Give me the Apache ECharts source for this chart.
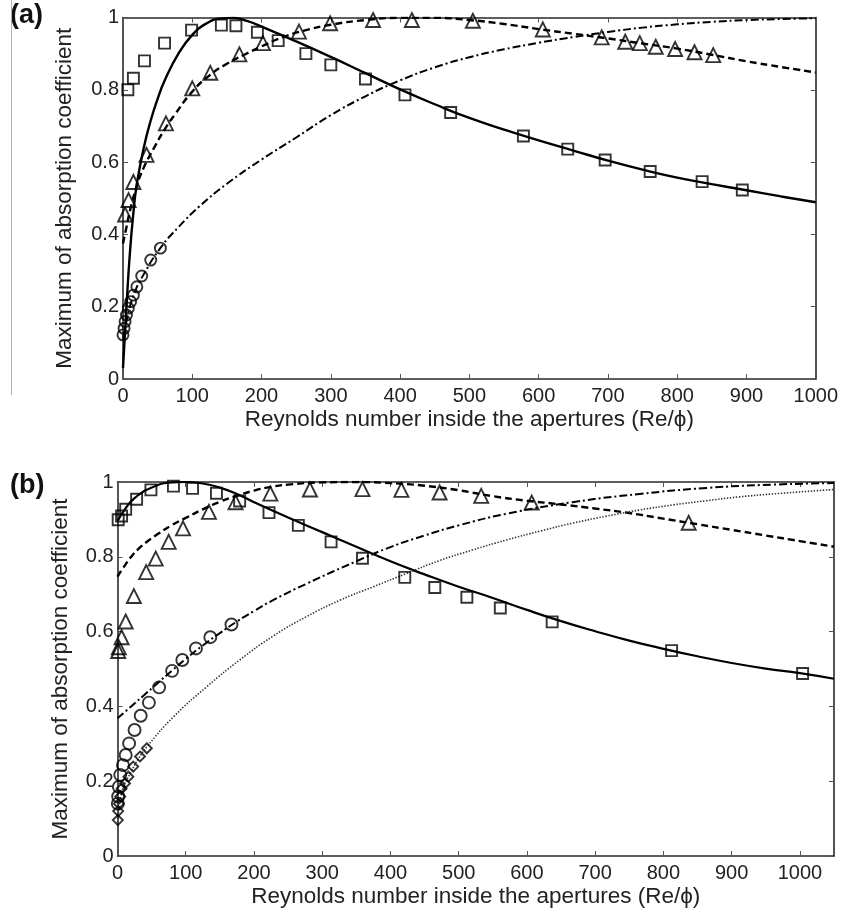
<!DOCTYPE html>
<html>
<head>
<meta charset="utf-8">
<script src="https://cdn.jsdelivr.net/npm/echarts@6/dist/echarts.min.js"></script>
<style>
html,body{margin:0;padding:0;background:#fff;}
#chart{width:841px;height:920px;}
</style>
</head>
<body>
<div id="chart"></div>
<script>
// ---------- Panel (a) data ----------
var aSquares = [[7,0.80],[15,0.832],[31,0.88],[60,0.929],[99,0.965],[142,0.979],[163,0.977],[194,0.959],[224,0.936],[264,0.90],[300,0.869],[350,0.83],[407,0.786],[473,0.737],[578,0.672],[642,0.636],[696,0.606],[761,0.574],[836,0.546],[894,0.523]];
var aTriangles = [[3,0.455],[8,0.495],[15,0.545],[34,0.62],[62,0.707],[100,0.804],[126,0.847],[168,0.898],[202,0.929],[254,0.961],[299,0.984],[361,0.993],[417,0.993],[505,0.991],[606,0.967],[691,0.945],[725,0.933],[746,0.929],[769,0.919],[797,0.913],[825,0.904],[852,0.896]];
var aCircles = [[0,0.122],[1.5,0.14],[3,0.159],[5,0.177],[7.7,0.196],[11,0.214],[15,0.232],[20,0.255],[27,0.285],[40,0.329],[54,0.362]];
var aSolid = [[0,0.03],[5,0.2],[10,0.35],[15,0.46],[20,0.54],[30,0.64],[40,0.715],[50,0.775],[60,0.825],[80,0.9],[100,0.952],[120,0.983],[140,0.997],[160,0.999],[180,0.99],[200,0.975],[250,0.934],[300,0.891],[350,0.846],[400,0.801],[450,0.76],[500,0.722],[550,0.69],[600,0.66],[650,0.632],[700,0.604],[750,0.579],[800,0.557],[850,0.539],[900,0.522],[950,0.505],[1000,0.489]];
var aDashed = [[0,0.375],[5,0.42],[10,0.465],[20,0.535],[30,0.585],[45,0.64],[60,0.69],[75,0.732],[100,0.795],[125,0.84],[150,0.872],[175,0.897],[200,0.92],[230,0.945],[260,0.963],[300,0.98],[350,0.993],[400,0.999],[450,0.999],[500,0.993],[550,0.982],[600,0.968],[650,0.955],[700,0.942],[750,0.928],[800,0.914],[850,0.897],[900,0.879],[950,0.863],[1000,0.848]];
var aDashDot = [[0,0.11],[5,0.16],[15,0.23],[30,0.29],[55,0.365],[80,0.42],[110,0.477],[150,0.54],[200,0.607],[250,0.668],[300,0.73],[350,0.782],[400,0.826],[450,0.862],[500,0.89],[550,0.912],[600,0.93],[650,0.946],[700,0.96],[750,0.972],[800,0.981],[850,0.988],[900,0.993],[1000,0.998]];

// ---------- Panel (b) data ----------
var bSquares = [[1,0.899],[6,0.909],[12,0.927],[28,0.954],[49,0.979],[82,0.989],[110,0.983],[145,0.97],[179,0.949],[222,0.918],[265,0.884],[313,0.84],[359,0.796],[421,0.745],[465,0.718],[512,0.692],[561,0.663],[637,0.626],[812,0.549],[1004,0.488]];
var bTriangles = [[1,0.548],[2,0.558],[6,0.585],[12,0.627],[24,0.695],[42,0.759],[56,0.795],[75,0.84],[96,0.876],[134,0.92],[173,0.946],[224,0.969],[282,0.98],[359,0.981],[416,0.979],[472,0.972],[533,0.963],[607,0.945],[837,0.891]];
var bCircles = [[0.5,0.14],[1,0.159],[2,0.185],[4,0.217],[8,0.243],[12,0.27],[17,0.301],[25,0.337],[34,0.375],[46,0.41],[61,0.451],[80,0.495],[95,0.524],[115,0.555],[136,0.585],[167,0.619]];
var bDiamonds = [[0.5,0.096],[1,0.12],[2,0.14],[4,0.159],[6,0.18],[11,0.194],[16,0.212],[23,0.239],[33,0.266],[43,0.288]];
var bSolid = [[0,0.895],[10,0.925],[25,0.957],[50,0.985],[75,0.998],[100,1.0],[125,0.996],[150,0.985],[175,0.968],[200,0.946],[250,0.905],[300,0.866],[350,0.827],[400,0.788],[450,0.753],[500,0.72],[550,0.69],[600,0.658],[650,0.628],[700,0.601],[750,0.576],[800,0.554],[850,0.534],[900,0.516],[950,0.501],[1000,0.489],[1050,0.474]];
var bDashed = [[0,0.747],[10,0.775],[20,0.8],[30,0.82],[45,0.843],[60,0.862],[80,0.885],[100,0.904],[125,0.927],[150,0.947],[175,0.963],[200,0.977],[225,0.987],[250,0.993],[300,0.999],[350,1.0],[400,0.997],[450,0.99],[500,0.978],[550,0.962],[600,0.95],[650,0.94],[700,0.929],[750,0.917],[800,0.902],[850,0.887],[900,0.872],[950,0.857],[1000,0.842],[1050,0.827]];
var bDashDot = [[0,0.368],[20,0.4],[40,0.432],[60,0.464],[80,0.496],[100,0.527],[125,0.563],[150,0.596],[175,0.627],[200,0.655],[228,0.684],[277,0.728],[350,0.788],[400,0.826],[450,0.857],[500,0.884],[570,0.915],[667,0.946],[765,0.968],[863,0.984],[960,0.993],[1050,0.997]];
var bDotted = [[0,0.09],[5,0.16],[10,0.19],[20,0.225],[30,0.258],[43,0.292],[82,0.372],[131,0.453],[179,0.524],[228,0.588],[277,0.64],[326,0.684],[375,0.72],[423,0.755],[472,0.79],[520,0.818],[570,0.845],[620,0.869],[667,0.89],[715,0.908],[765,0.925],[815,0.939],[863,0.95],[910,0.96],[960,0.968],[1050,0.98]];

// ---------- Axis ticks ----------
var yTicks = [0, 0.2, 0.4, 0.6, 0.8, 1];
var xTickStep = 100;
var aXMax = 1000;
var bXMax = 1050;
var xTitle = 'Reynolds number inside the apertures (Re/\u03D5)';
var yTitle = 'Maximum of absorption coefficient';

var FONT = 'Liberation Sans, Arial, sans-serif';
var AXC = '#2a2a2a';

function xAxes(gi, max) {
  var common = {
    type: 'value', gridIndex: gi, min: 0, max: max, interval: xTickStep,
    axisLine: {show: true, onZero: false, lineStyle: {color: AXC, width: 1.6}},
    axisTick: {show: true, inside: true, length: 5, lineStyle: {color: '#555', width: 1}},
    splitLine: {show: false}
  };
  return [
    Object.assign({}, common, {
      position: 'bottom',
      axisLabel: {show: true, color: '#222', fontFamily: FONT, fontSize: 20, margin: 7,
        showMaxLabel: max % xTickStep === 0,
        formatter: function (v) { return String(v); }},
      name: xTitle, nameLocation: 'middle', nameGap: 29,
      nameTextStyle: {color: '#222', fontFamily: FONT, fontSize: 22.5}
    }),
    Object.assign({}, common, {position: 'top', axisLabel: {show: false}})
  ];
}
function yAxes(gi, gap) {
  var common = {
    type: 'value', gridIndex: gi, min: 0, max: 1, interval: 0.2,
    axisLine: {show: true, onZero: false, lineStyle: {color: AXC, width: 1.6}},
    axisTick: {show: true, inside: true, length: 5, lineStyle: {color: '#555', width: 1}},
    splitLine: {show: false}
  };
  return [
    Object.assign({}, common, {
      position: 'left',
      axisLabel: {show: true, color: '#222', fontFamily: FONT, fontSize: 20, margin: 4,
        customValues: yTicks,
        formatter: function (v) { return String(Math.round(v * 10) / 10); }},
      name: yTitle, nameLocation: 'middle', nameGap: gap, nameRotate: 90,
      nameTextStyle: {color: '#222', fontFamily: FONT, fontSize: 22.5}
    }),
    Object.assign({}, common, {position: 'right', axisLabel: {show: false}})
  ];
}

function curve(xi, yi, data, type, width, color) {
  return {type: 'line', xAxisIndex: xi, yAxisIndex: yi, data: data, showSymbol: false,
    smooth: 0.5, silent: true, z: 2,
    lineStyle: {color: color || '#000', width: width, type: type}};
}
function marks(xi, yi, data, symbol, size) {
  return {type: 'scatter', xAxisIndex: xi, yAxisIndex: yi, data: data, symbol: symbol,
    symbolSize: size, silent: true, z: 3,
    itemStyle: {color: 'rgba(255,255,255,0)', borderColor: '#000', borderWidth: 1.9}};
}

var xa = xAxes(0, aXMax).concat(xAxes(1, bXMax));
var ya = yAxes(0, 47).concat(yAxes(1, 45));

var option = {
  animation: false,
  backgroundColor: '#fff',
  grid: [
    {left: 123, top: 17.5, width: 693, height: 361.5},
    {left: 117.5, top: 482, width: 716.5, height: 374}
  ],
  xAxis: xa,
  yAxis: ya,
  graphic: [
    {type: 'text', left: 10, top: 2, style: {text: '(a)', font: 'bold 27px ' + FONT, fill: '#111'}},
    {type: 'text', left: 10, top: 472, style: {text: '(b)', font: 'bold 27px ' + FONT, fill: '#111'}},
    {type: 'line', shape: {x1: 11.5, y1: 0, x2: 11.5, y2: 395}, style: {stroke: '#b0b0b0', lineWidth: 1}}
  ],
  series: [
    curve(0, 0, aSolid, 'solid', 2.4),
    curve(0, 0, aDashed, [7, 4], 2.4),
    curve(0, 0, aDashDot, [8, 3, 2, 3], 2),
    marks(0, 0, aSquares, 'rect', 11),
    marks(0, 0, aTriangles, 'triangle', 14),
    marks(0, 0, aCircles, 'circle', 11),

    curve(2, 2, bSolid, 'solid', 2.2),
    curve(2, 2, bDashed, [7, 4], 2.4),
    curve(2, 2, bDashDot, [8, 3, 2, 3], 2),
    curve(2, 2, bDotted, [1.4, 1.6], 1.6, '#333'),
    marks(2, 2, bSquares, 'rect', 11),
    marks(2, 2, bTriangles, 'triangle', 14),
    marks(2, 2, bCircles, 'circle', 12),
    marks(2, 2, bDiamonds, 'diamond', 10)
  ]
};

var chart = echarts.init(document.getElementById('chart'), null, {renderer: 'canvas'});
chart.setOption(option);
</script>
</body>
</html>
